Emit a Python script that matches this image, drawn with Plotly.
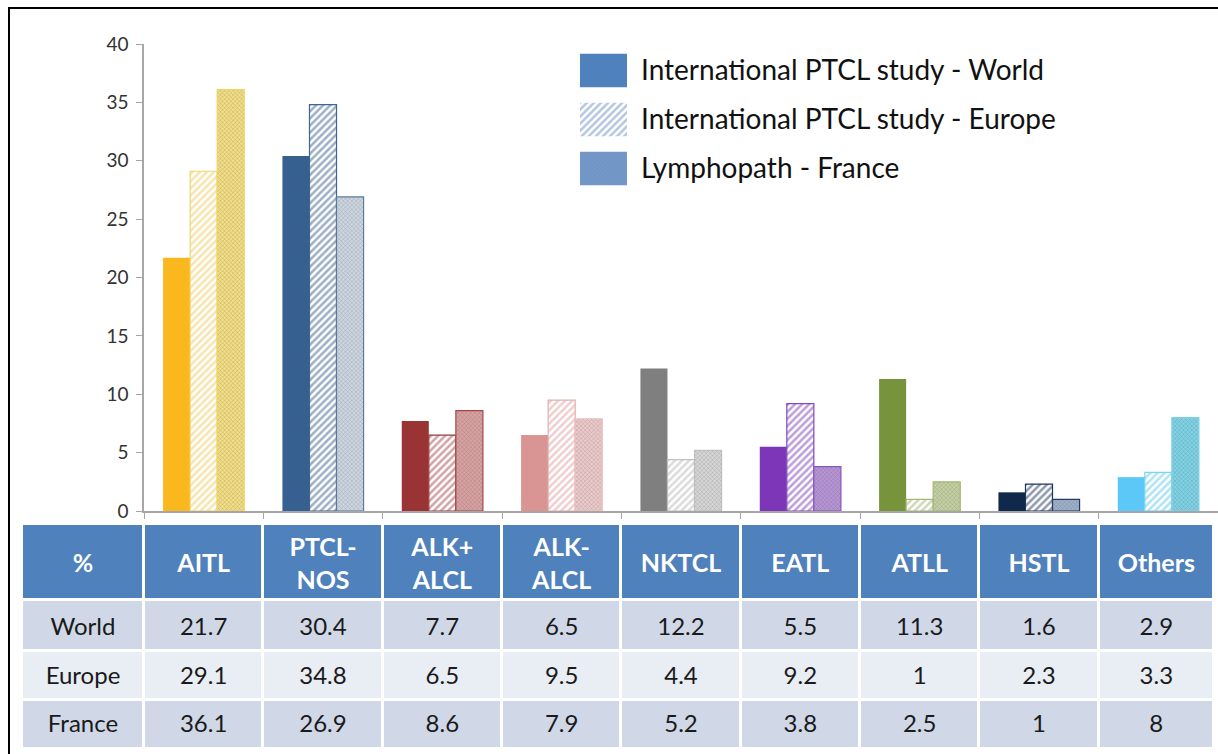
import plotly.graph_objects as go

# ---------------- data ----------------
categories = ["AITL", "PTCL-NOS", "ALK+ ALCL", "ALK- ALCL", "NKTCL", "EATL", "ATLL", "HSTL", "Others"]
header_labels = ["AITL", "PTCL-<br>NOS", "ALK+<br>ALCL", "ALK-<br>ALCL", "NKTCL", "EATL", "ATLL", "HSTL", "Others"]
world = [21.7, 30.4, 7.7, 6.5, 12.2, 5.5, 11.3, 1.6, 2.9]
europe = [29.1, 34.8, 6.5, 9.5, 4.4, 9.2, 1.0, 2.3, 3.3]
france = [36.1, 26.9, 8.6, 7.9, 5.2, 3.8, 2.5, 1.0, 8.0]
row_names = ["World", "Europe", "France"]
legend_names = ["International PTCL study - World",
                "International PTCL study - Europe",
                "Lymphopath - France"]
y_ticks = [0, 5, 10, 15, 20, 25, 30, 35, 40]

# ---------------- styles ----------------
world_col = ["#FAB71E", "#35608F", "#9A3333", "#D99494", "#7F7F7F", "#7E36B9", "#77933C", "#10284A", "#5BC8F7"]
eu_hatch = ["#EDCB5E", "#3A5F8C", "#A84646", "#E09E9E", "#B8B8B8", "#7B3BB8", "#A0B46B", "#1C3256", "#5EC8E8"]
eu_line = ["#EFD46C", "#3F6490", "#9A3B3B", "#E6AEAE", "#C0C0C0", "#8347BC", "#A5B774", "#1F3559", "#7DD3EE"]
fr_bg = ["#F3DE84", "#CDD6E0", "#D9A1A1", "#EDCACA", "#D6D6D6", "#B794D6", "#C4D1A2", "#9DB0CC", "#7FD3E6"]
fr_fg = ["#EAD06A", "#A6B5C6", "#C27C7C", "#DFB2B2", "#BCBCBC", "#9E72C6", "#ABBC80", "#7A92B5", "#62C3D9"]
fr_line = ["#EFD36A", "#5B7A9E", "#A14848", "#E8C0C0", "#BFBFBF", "#8A56BE", "#A3B574", "#243C60", "#7DD3E6"]

FONT = "Lato, 'Open Sans', sans-serif"
W, H = 1218, 754


def fx(px):
    return px / W


def fy(py):
    return 1 - py / H


fig = go.Figure()

# ---------------- bars ----------------
fig.add_trace(go.Bar(
    x=categories, y=world, name=row_names[0],
    marker=dict(color=world_col, line=dict(width=0)),
    showlegend=False, hoverinfo="skip"))

fig.add_trace(go.Bar(
    x=categories, y=europe, name=row_names[1],
    marker=dict(color="white",
                line=dict(color=eu_line, width=1.2),
                pattern=dict(shape="/", fgcolor=eu_hatch, size=5, solidity=0.5,
                             fillmode="overlay")),
    showlegend=False, hoverinfo="skip"))

fig.add_trace(go.Bar(
    x=categories, y=france, name=row_names[2],
    marker=dict(color=fr_bg,
                line=dict(color=fr_line, width=1.2),
                pattern=dict(shape="x", fgcolor=fr_fg, size=3, solidity=0.2,
                             fillmode="overlay")),
    showlegend=False, hoverinfo="skip"))

# ---------------- legend swatches (auxiliary hidden axis) ----------------
leg_styles = [
    dict(color="#4F81BD"),
    dict(color="white", pattern=dict(shape="/", fgcolor="#6A8CC0", size=5, solidity=0.5, fillmode="overlay")),
    dict(color="#7498C8", pattern=dict(shape="x", fgcolor="#5A80B5", size=3, solidity=0.2, fillmode="overlay")),
]
for name, st in zip(legend_names, leg_styles):
    fig.add_trace(go.Bar(
        y=[name], x=[1], orientation="h", xaxis="x2", yaxis="y2",
        offsetgroup="legend", marker=dict(line=dict(width=0), **st),
        showlegend=False, hoverinfo="skip"))

# ---------------- table (heatmap cells + text on an auxiliary axis) ----------------
ncat = len(categories)
cat_w = (W - 144) / ncat
col_edges = [22] + [144 + cat_w * i for i in range(ncat)] + [1214]
row_edges = [524, 600, 651, 700, 749]
col_centers = [(col_edges[i] + col_edges[i + 1]) / 2 for i in range(ncat + 1)]
row_centers = [(row_edges[i] + row_edges[i + 1]) / 2 for i in range(4)]
text_shift = [4, 3, 2, 1]  # small optical adjustment of text baselines

z = [[0] * (ncat + 1), [1] * (ncat + 1), [2] * (ncat + 1), [1] * (ncat + 1)]
fig.add_trace(go.Heatmap(
    x=col_edges, y=row_edges, z=z, xaxis="x3", yaxis="y3",
    zmin=0, zmax=2, showscale=False, xgap=3, ygap=3,
    colorscale=[[0, "#4F81BD"], [0.5, "#D0D8E8"], [1, "#E9EDF4"]],
    hoverinfo="skip"))

fmt = lambda v: f"{v:g}"
# header text
fig.add_trace(go.Scatter(
    x=col_centers, y=[row_centers[0] + text_shift[0]] * (ncat + 1), xaxis="x3", yaxis="y3",
    mode="text", text=[f"<b>{t}</b>" for t in ["%"] + header_labels],
    textposition="middle center",
    textfont=dict(family=FONT, size=25, color="white"),
    showlegend=False, hoverinfo="skip"))
# body text
for r, (rname, series) in enumerate(zip(row_names, [world, europe, france])):
    fig.add_trace(go.Scatter(
        x=col_centers, y=[row_centers[r + 1] + text_shift[r + 1]] * (ncat + 1),
        xaxis="x3", yaxis="y3",
        mode="text", text=[rname] + [fmt(v) for v in series],
        textposition="middle center",
        textfont=dict(family=FONT, size=24, color="#1a1a1a"),
        showlegend=False, hoverinfo="skip"))

fig.update_layout(
    width=W, height=H,
    margin=dict(l=0, r=0, t=0, b=0, autoexpand=False),
    paper_bgcolor="white", plot_bgcolor="rgba(0,0,0,0)",
    barmode="group", bargap=0.32, bargroupgap=0,
    font=dict(family=FONT, color="#333333"),
    xaxis=dict(domain=[fx(144), 1.0], type="category", range=[-0.5, 8.5],
               showline=True, linecolor="#A6A6A6", linewidth=1.5,
               ticks="outside", tickson="boundaries", ticklen=6, tickcolor="#A6A6A6",
               showticklabels=False, showgrid=False, zeroline=False,
               fixedrange=True, automargin=False),
    yaxis=dict(domain=[fy(511), fy(44)], range=[0, 40], tickvals=y_ticks,
               showline=True, linecolor="#A6A6A6", linewidth=1.5,
               ticks="outside", ticklen=6, tickcolor="#A6A6A6",
               ticklabelstandoff=4,
               tickfont=dict(size=19, color="#333333", family=FONT),
               showgrid=False, zeroline=False, fixedrange=True, automargin=False),
    xaxis2=dict(domain=[fx(580), fx(627)], range=[0, 1], visible=False,
                fixedrange=True, automargin=False),
    yaxis2=dict(domain=[fy(193), fy(46)], anchor="x2", type="category",
                categoryorder="array", categoryarray=legend_names,
                autorange="reversed", side="right", showline=False, showgrid=False,
                zeroline=False, ticks="", ticklabelstandoff=13,
                tickfont=dict(size=28, color="#111111", family=FONT),
                fixedrange=True, automargin=False),
    xaxis3=dict(domain=[fx(22), fx(1214)], range=[22, 1214], visible=False,
                fixedrange=True, automargin=False, anchor="y3"),
    yaxis3=dict(domain=[fy(749), fy(524)], range=[749, 524], visible=False,
                fixedrange=True, automargin=False, anchor="x3"),
    shapes=[dict(type="rect", xref="paper", yref="paper",
                 x0=fx(9), x1=1.05, y0=-0.05, y1=fy(8),
                 line=dict(color="black", width=2), fillcolor="rgba(0,0,0,0)",
                 layer="above")],
)

fig.write_html("out.html", config={"displayModeBar": False},
               post_script="document.body.style.margin='0';document.body.style.overflow='hidden';")
